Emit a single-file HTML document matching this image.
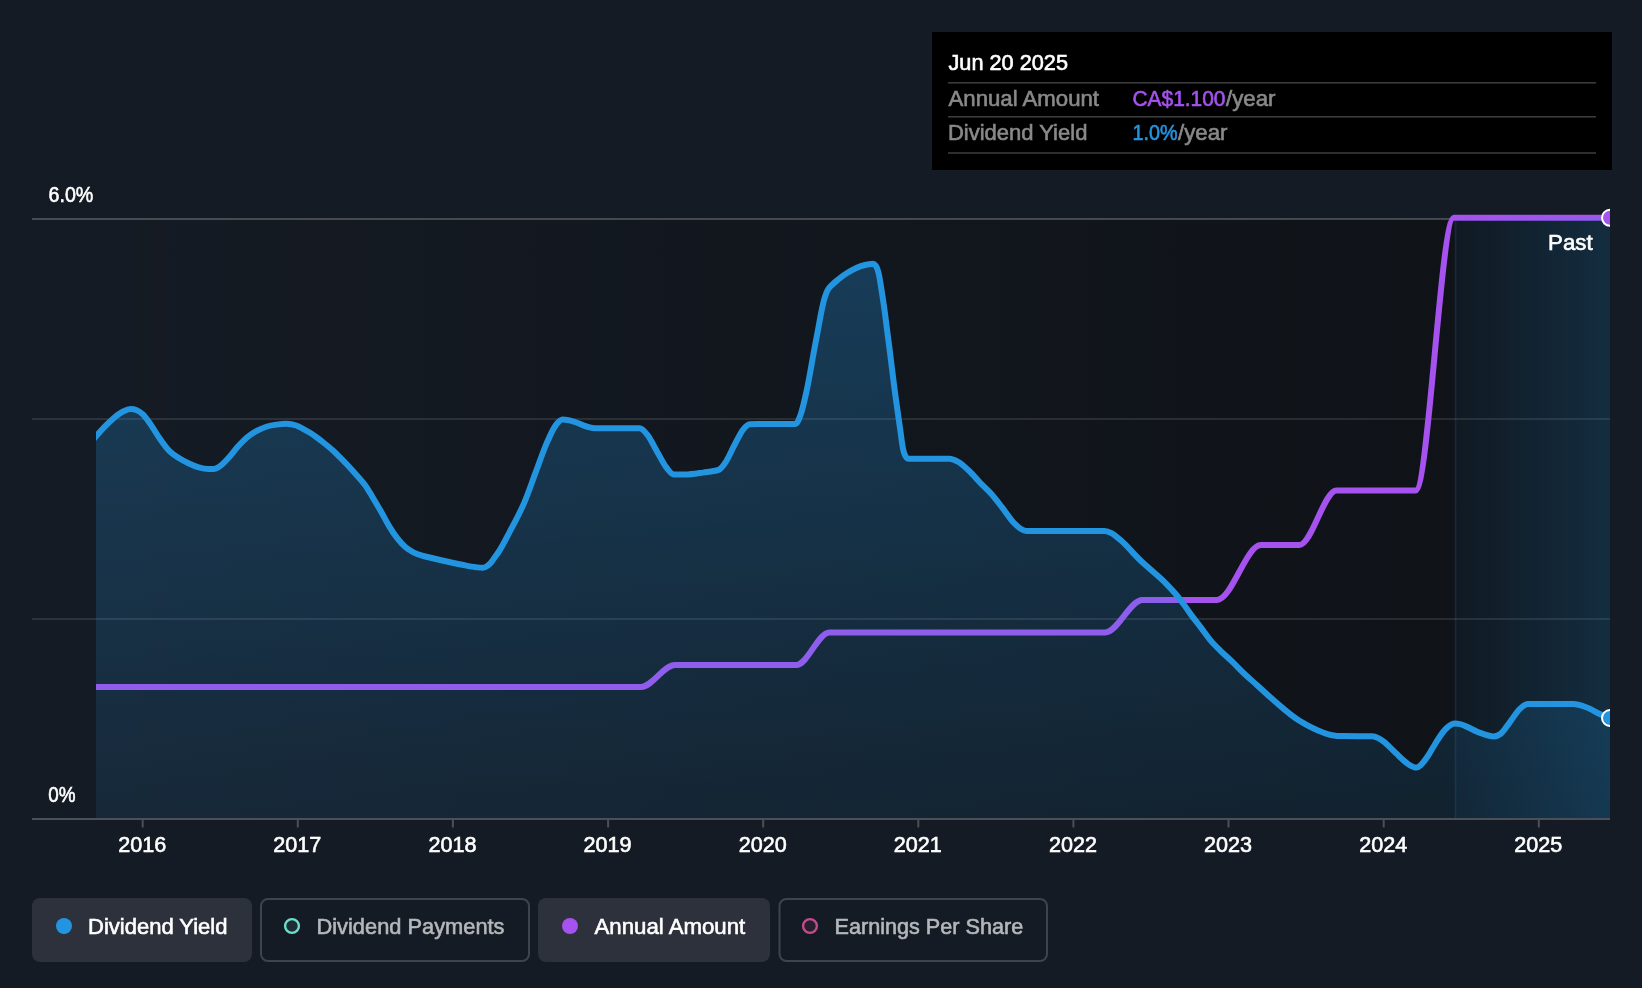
<!DOCTYPE html>
<html><head><meta charset="utf-8"><title>Dividend chart</title>
<style>
html,body{margin:0;padding:0;background:#151b24;}
body{width:1642px;height:988px;overflow:hidden;position:relative;font-family:"Liberation Sans",sans-serif;}
svg{position:absolute;left:0;top:0;display:block;will-change:transform;}
text{font-family:"Liberation Sans",sans-serif;stroke-width:0.6px;}
.ax{font-size:21.6px;fill:#ffffff;stroke:#ffffff;}
.tt{font-size:21.6px;}
.lg{font-size:21.8px;}
</style></head><body>
<svg width="1642" height="988" viewBox="0 0 1642 988">
<defs>
<linearGradient id="dk" x1="96" y1="0" x2="1455" y2="0" gradientUnits="userSpaceOnUse">
<stop offset="0" stop-color="#090a0b" stop-opacity="0"/><stop offset="1" stop-color="#090a0b" stop-opacity="0.47"/></linearGradient>
<linearGradient id="ar" x1="0" y1="263" x2="0" y2="818" gradientUnits="userSpaceOnUse">
<stop offset="0" stop-color="#2394df" stop-opacity="0.30"/><stop offset="1" stop-color="#2394df" stop-opacity="0.11"/></linearGradient>
<linearGradient id="past" x1="1455" y1="0" x2="1610" y2="0" gradientUnits="userSpaceOnUse">
<stop offset="0" stop-color="#2394df" stop-opacity="0.05"/><stop offset="1" stop-color="#2394df" stop-opacity="0.2"/></linearGradient>
<clipPath id="cp"><rect x="96" y="200" width="1514" height="640"/></clipPath>
</defs>
<rect x="0" y="0" width="1642" height="988" fill="#151b24"/>
<rect x="96" y="219" width="1359" height="599" fill="url(#dk)"/>
<rect x="1455" y="219" width="155" height="599" fill="#090a0b" opacity="0.47"/>
<rect x="32" y="418" width="1578" height="2" fill="#fff" fill-opacity="0.105"/>
<rect x="32" y="618" width="1578" height="2" fill="#fff" fill-opacity="0.105"/>
<rect x="32" y="218" width="1578" height="2" fill="#fff" fill-opacity="0.21"/>
<g clip-path="url(#cp)">
<path d="M80.00,686.90C267.03,686.90,454.07,686.90,641.10,686.90C652.37,686.90,663.63,665.00,674.90,665.00C715.40,665.00,755.90,665.00,796.40,665.00C807.37,665.00,818.33,632.40,829.30,632.40C921.27,632.40,1013.23,632.40,1105.20,632.40C1117.63,632.40,1130.07,599.90,1142.50,599.90C1167.33,599.90,1192.17,599.90,1217.00,599.90C1231.63,599.90,1246.27,545.10,1260.90,545.10C1273.70,545.10,1286.50,545.10,1299.30,545.10C1311.70,545.10,1324.10,490.50,1336.50,490.50C1362.87,490.50,1389.23,490.50,1415.60,490.50C1428.33,490.50,1441.07,217.80,1453.80,217.80C1505.87,217.80,1557.93,217.80,1610.00,217.80" fill="none" stroke="#a552ee" stroke-width="6" stroke-linejoin="round"/>
<path d="M84.00,451.00C88.00,446.00,92.00,441.01,96.00,436.40C99.50,432.37,103.00,428.41,106.50,424.90C108.50,422.89,110.50,420.95,112.50,419.20C114.53,417.42,116.57,415.72,118.60,414.30C120.63,412.88,122.67,411.58,124.70,410.70C126.73,409.82,128.77,409.00,130.80,409.00C132.80,409.00,134.80,409.40,136.80,410.20C138.83,411.01,140.87,412.46,142.90,414.40C145.27,416.66,147.63,420.11,150.00,423.40C153.23,427.89,156.47,433.89,159.70,438.50C162.97,443.16,166.23,447.89,169.50,451.20C172.73,454.47,175.97,456.26,179.20,458.30C182.47,460.36,185.73,461.98,189.00,463.50C192.23,465.01,195.47,466.47,198.70,467.40C201.97,468.34,205.23,469.10,208.50,469.10C210.13,469.10,211.77,469.07,213.40,469.00C215.00,468.93,216.60,468.24,218.20,467.40C221.47,465.69,224.73,461.96,228.00,458.50C231.23,455.08,234.47,450.37,237.70,446.80C240.97,443.19,244.23,439.69,247.50,437.00C250.73,434.34,253.97,432.44,257.20,430.70C260.47,428.94,263.73,427.52,267.00,426.50C270.23,425.49,273.47,425.05,276.70,424.60C279.97,424.15,283.23,423.80,286.50,423.80C289.73,423.80,292.97,424.37,296.20,425.50C298.47,426.29,300.73,427.60,303.00,428.80C305.33,430.03,307.67,431.34,310.00,432.80C312.07,434.10,314.13,435.52,316.20,437.00C318.80,438.87,321.40,440.92,324.00,443.00C326.80,445.24,329.60,447.48,332.40,450.00C334.93,452.28,337.47,454.78,340.00,457.30C342.87,460.15,345.73,463.12,348.60,466.20C351.23,469.03,353.87,471.98,356.50,475.00C359.27,478.17,362.03,480.95,364.80,484.80C366.03,486.52,367.27,488.36,368.50,490.30C369.97,492.61,371.43,495.22,372.90,497.70C375.60,502.26,378.30,506.77,381.00,511.50C383.70,516.23,386.40,521.65,389.10,526.10C391.80,530.55,394.50,534.70,397.20,538.20C399.90,541.70,402.60,544.75,405.30,547.10C408.00,549.45,410.70,550.91,413.40,552.30C416.30,553.79,419.20,554.70,422.10,555.60C424.60,556.38,427.10,556.88,429.60,557.50C433.80,558.54,438.00,559.54,442.20,560.50C448.90,562.03,455.60,563.52,462.30,564.80C466.87,565.67,471.43,566.66,476.00,567.20C478.20,567.46,480.40,567.80,482.60,567.80C483.90,567.80,485.20,567.25,486.50,566.50C488.03,565.61,489.57,564.28,491.10,562.50C492.40,560.99,493.70,558.83,495.00,557.00C496.30,555.17,497.60,553.48,498.90,551.50C502.53,545.98,506.17,538.51,509.80,531.60C514.67,522.34,519.53,513.86,524.40,502.30C528.07,493.59,531.73,482.83,535.40,473.10C539.07,463.37,542.73,452.34,546.40,443.90C549.43,436.92,552.47,429.70,555.50,425.60C557.93,422.31,560.37,419.60,562.80,419.60C566.47,419.60,570.13,420.59,573.80,421.60C578.07,422.77,582.33,425.33,586.60,426.50C589.63,427.33,592.67,428.30,595.70,428.30C610.33,428.30,624.97,428.30,639.60,428.30C642.20,428.30,644.80,431.60,647.40,434.80C650.73,438.90,654.07,446.46,657.40,452.20C660.43,457.42,663.47,463.82,666.50,467.70C668.97,470.85,671.43,474.60,673.90,474.60C677.53,474.60,681.17,474.60,684.80,474.60C690.90,474.60,697.00,473.48,703.10,472.60C708.27,471.85,713.43,471.70,718.60,469.90C720.73,469.16,722.87,466.11,725.00,463.10C728.03,458.83,731.07,451.40,734.10,445.80C737.17,440.13,740.23,433.00,743.30,429.30C745.43,426.73,747.57,424.36,749.70,424.20C752.43,424.00,755.17,423.90,757.90,423.90C770.40,423.90,782.90,423.90,795.40,423.90C797.13,423.90,798.87,419.61,800.60,414.80C802.63,409.15,804.67,399.89,806.70,390.50C809.20,378.95,811.70,363.29,814.20,350.00C815.40,343.62,816.60,337.37,817.80,331.00C819.07,324.28,820.33,316.72,821.60,310.70C822.37,307.06,823.13,303.51,823.90,300.60C824.70,297.57,825.50,295.01,826.30,293.00C826.93,291.41,827.57,290.23,828.20,289.20C828.80,288.22,829.40,287.60,830.00,286.90C831.00,285.74,832.00,284.93,833.00,284.00C834.17,282.92,835.33,281.89,836.50,280.90C837.87,279.74,839.23,278.65,840.60,277.60C842.07,276.47,843.53,275.41,845.00,274.40C846.90,273.10,848.80,271.88,850.70,270.80C854.10,268.87,857.50,267.35,860.90,266.20C863.60,265.29,866.30,264.60,869.00,264.20C870.33,264.00,871.67,263.80,873.00,263.80C873.87,263.80,874.73,264.37,875.60,265.50C876.77,267.03,877.93,269.80,879.10,275.30C879.93,279.23,880.77,285.19,881.60,290.50C882.60,296.88,883.60,303.39,884.60,310.70C885.47,317.03,886.33,324.33,887.20,331.00C888.03,337.42,888.87,343.51,889.70,350.00C891.17,361.42,892.63,374.38,894.10,385.70C896.13,401.39,898.17,415.16,900.20,429.40C901.13,435.94,902.07,444.27,903.00,448.80C903.83,452.84,904.67,454.91,905.50,456.30C906.50,457.97,907.50,458.80,908.50,458.80C922.10,458.80,935.70,458.70,949.30,458.70C952.37,458.70,955.43,460.22,958.50,462.00C962.13,464.11,965.77,467.72,969.40,471.20C973.07,474.71,976.73,479.20,980.40,483.00C984.07,486.80,987.73,489.86,991.40,494.00C995.03,498.10,998.67,503.01,1002.30,507.70C1005.97,512.44,1009.63,518.43,1013.30,522.30C1015.73,524.87,1018.17,527.23,1020.60,528.70C1022.43,529.81,1024.27,530.90,1026.10,530.90C1052.27,530.90,1078.43,530.90,1104.60,530.90C1107.03,530.90,1109.47,532.00,1111.90,533.30C1114.97,534.94,1118.03,537.94,1121.10,540.60C1127.57,546.21,1134.03,554.43,1140.50,560.50C1143.20,563.03,1145.90,565.37,1148.60,567.80C1154.00,572.66,1159.40,576.88,1164.80,582.30C1168.57,586.08,1172.33,589.96,1176.10,594.50C1178.80,597.76,1181.50,601.35,1184.20,605.00C1186.90,608.65,1189.60,612.75,1192.30,616.40C1195.00,620.05,1197.70,623.36,1200.40,626.90C1203.63,631.14,1206.87,635.93,1210.10,639.80C1213.40,643.75,1216.70,646.99,1220.00,650.30C1224.07,654.38,1228.13,657.78,1232.20,661.70C1236.23,665.58,1240.27,669.88,1244.30,673.70C1248.37,677.55,1252.43,681.02,1256.50,684.70C1261.00,688.78,1265.50,693.00,1270.00,697.00C1274.07,700.61,1278.13,704.18,1282.20,707.60C1284.13,709.23,1286.07,710.85,1288.00,712.40C1290.10,714.09,1292.20,715.80,1294.30,717.30C1296.33,718.76,1298.37,720.03,1300.40,721.30C1302.43,722.57,1304.47,723.78,1306.50,724.90C1310.53,727.13,1314.57,729.02,1318.60,730.70C1322.67,732.39,1326.73,734.13,1330.80,735.00C1332.87,735.44,1334.93,735.76,1337.00,735.90C1339.00,736.03,1341.00,736.09,1343.00,736.10C1352.73,736.17,1362.47,736.13,1372.20,736.20C1374.23,736.21,1376.27,737.10,1378.30,738.10C1380.33,739.10,1382.37,740.57,1384.40,742.20C1386.43,743.83,1388.47,745.97,1390.50,747.90C1392.50,749.80,1394.50,751.77,1396.50,753.70C1398.53,755.67,1400.57,757.80,1402.60,759.60C1404.63,761.40,1406.67,763.20,1408.70,764.50C1410.73,765.80,1412.77,767.17,1414.80,767.40C1415.40,767.47,1416.00,767.50,1416.60,767.50C1418.03,767.50,1419.47,766.15,1420.90,764.90C1422.93,763.13,1424.97,760.23,1427.00,757.30C1429.03,754.37,1431.07,750.60,1433.10,747.30C1435.13,744.00,1437.17,740.48,1439.20,737.50C1441.23,734.52,1443.27,731.58,1445.30,729.40C1447.33,727.22,1449.37,725.30,1451.40,724.40C1452.60,723.87,1453.80,723.60,1455.00,723.60C1456.67,723.60,1458.33,723.77,1460.00,724.10C1461.60,724.42,1463.20,725.27,1464.80,725.90C1470.20,728.02,1475.60,731.38,1481.00,733.20C1485.30,734.65,1489.60,736.40,1493.90,736.40C1496.07,736.40,1498.23,735.57,1500.40,734.00C1503.63,731.65,1506.87,725.96,1510.10,721.80C1513.37,717.60,1516.63,711.93,1519.90,708.90C1522.60,706.40,1525.30,704.00,1528.00,704.00C1543.10,704.00,1558.20,704.00,1573.30,704.00C1577.63,704.00,1581.97,705.70,1586.30,707.30C1591.13,709.08,1595.97,712.35,1600.80,714.50C1603.87,715.87,1606.93,717.10,1610.00,718.30C1613.33,719.61,1616.67,720.80,1620.00,722.00L1620,818L84,818Z" fill="url(#ar)"/>
<rect x="1455" y="218" width="155" height="600" fill="url(#past)"/>
<rect x="1454.6" y="218" width="1.8" height="600" fill="#2394df" fill-opacity="0.14"/>
<path d="M84.00,451.00C88.00,446.00,92.00,441.01,96.00,436.40C99.50,432.37,103.00,428.41,106.50,424.90C108.50,422.89,110.50,420.95,112.50,419.20C114.53,417.42,116.57,415.72,118.60,414.30C120.63,412.88,122.67,411.58,124.70,410.70C126.73,409.82,128.77,409.00,130.80,409.00C132.80,409.00,134.80,409.40,136.80,410.20C138.83,411.01,140.87,412.46,142.90,414.40C145.27,416.66,147.63,420.11,150.00,423.40C153.23,427.89,156.47,433.89,159.70,438.50C162.97,443.16,166.23,447.89,169.50,451.20C172.73,454.47,175.97,456.26,179.20,458.30C182.47,460.36,185.73,461.98,189.00,463.50C192.23,465.01,195.47,466.47,198.70,467.40C201.97,468.34,205.23,469.10,208.50,469.10C210.13,469.10,211.77,469.07,213.40,469.00C215.00,468.93,216.60,468.24,218.20,467.40C221.47,465.69,224.73,461.96,228.00,458.50C231.23,455.08,234.47,450.37,237.70,446.80C240.97,443.19,244.23,439.69,247.50,437.00C250.73,434.34,253.97,432.44,257.20,430.70C260.47,428.94,263.73,427.52,267.00,426.50C270.23,425.49,273.47,425.05,276.70,424.60C279.97,424.15,283.23,423.80,286.50,423.80C289.73,423.80,292.97,424.37,296.20,425.50C298.47,426.29,300.73,427.60,303.00,428.80C305.33,430.03,307.67,431.34,310.00,432.80C312.07,434.10,314.13,435.52,316.20,437.00C318.80,438.87,321.40,440.92,324.00,443.00C326.80,445.24,329.60,447.48,332.40,450.00C334.93,452.28,337.47,454.78,340.00,457.30C342.87,460.15,345.73,463.12,348.60,466.20C351.23,469.03,353.87,471.98,356.50,475.00C359.27,478.17,362.03,480.95,364.80,484.80C366.03,486.52,367.27,488.36,368.50,490.30C369.97,492.61,371.43,495.22,372.90,497.70C375.60,502.26,378.30,506.77,381.00,511.50C383.70,516.23,386.40,521.65,389.10,526.10C391.80,530.55,394.50,534.70,397.20,538.20C399.90,541.70,402.60,544.75,405.30,547.10C408.00,549.45,410.70,550.91,413.40,552.30C416.30,553.79,419.20,554.70,422.10,555.60C424.60,556.38,427.10,556.88,429.60,557.50C433.80,558.54,438.00,559.54,442.20,560.50C448.90,562.03,455.60,563.52,462.30,564.80C466.87,565.67,471.43,566.66,476.00,567.20C478.20,567.46,480.40,567.80,482.60,567.80C483.90,567.80,485.20,567.25,486.50,566.50C488.03,565.61,489.57,564.28,491.10,562.50C492.40,560.99,493.70,558.83,495.00,557.00C496.30,555.17,497.60,553.48,498.90,551.50C502.53,545.98,506.17,538.51,509.80,531.60C514.67,522.34,519.53,513.86,524.40,502.30C528.07,493.59,531.73,482.83,535.40,473.10C539.07,463.37,542.73,452.34,546.40,443.90C549.43,436.92,552.47,429.70,555.50,425.60C557.93,422.31,560.37,419.60,562.80,419.60C566.47,419.60,570.13,420.59,573.80,421.60C578.07,422.77,582.33,425.33,586.60,426.50C589.63,427.33,592.67,428.30,595.70,428.30C610.33,428.30,624.97,428.30,639.60,428.30C642.20,428.30,644.80,431.60,647.40,434.80C650.73,438.90,654.07,446.46,657.40,452.20C660.43,457.42,663.47,463.82,666.50,467.70C668.97,470.85,671.43,474.60,673.90,474.60C677.53,474.60,681.17,474.60,684.80,474.60C690.90,474.60,697.00,473.48,703.10,472.60C708.27,471.85,713.43,471.70,718.60,469.90C720.73,469.16,722.87,466.11,725.00,463.10C728.03,458.83,731.07,451.40,734.10,445.80C737.17,440.13,740.23,433.00,743.30,429.30C745.43,426.73,747.57,424.36,749.70,424.20C752.43,424.00,755.17,423.90,757.90,423.90C770.40,423.90,782.90,423.90,795.40,423.90C797.13,423.90,798.87,419.61,800.60,414.80C802.63,409.15,804.67,399.89,806.70,390.50C809.20,378.95,811.70,363.29,814.20,350.00C815.40,343.62,816.60,337.37,817.80,331.00C819.07,324.28,820.33,316.72,821.60,310.70C822.37,307.06,823.13,303.51,823.90,300.60C824.70,297.57,825.50,295.01,826.30,293.00C826.93,291.41,827.57,290.23,828.20,289.20C828.80,288.22,829.40,287.60,830.00,286.90C831.00,285.74,832.00,284.93,833.00,284.00C834.17,282.92,835.33,281.89,836.50,280.90C837.87,279.74,839.23,278.65,840.60,277.60C842.07,276.47,843.53,275.41,845.00,274.40C846.90,273.10,848.80,271.88,850.70,270.80C854.10,268.87,857.50,267.35,860.90,266.20C863.60,265.29,866.30,264.60,869.00,264.20C870.33,264.00,871.67,263.80,873.00,263.80C873.87,263.80,874.73,264.37,875.60,265.50C876.77,267.03,877.93,269.80,879.10,275.30C879.93,279.23,880.77,285.19,881.60,290.50C882.60,296.88,883.60,303.39,884.60,310.70C885.47,317.03,886.33,324.33,887.20,331.00C888.03,337.42,888.87,343.51,889.70,350.00C891.17,361.42,892.63,374.38,894.10,385.70C896.13,401.39,898.17,415.16,900.20,429.40C901.13,435.94,902.07,444.27,903.00,448.80C903.83,452.84,904.67,454.91,905.50,456.30C906.50,457.97,907.50,458.80,908.50,458.80C922.10,458.80,935.70,458.70,949.30,458.70C952.37,458.70,955.43,460.22,958.50,462.00C962.13,464.11,965.77,467.72,969.40,471.20C973.07,474.71,976.73,479.20,980.40,483.00C984.07,486.80,987.73,489.86,991.40,494.00C995.03,498.10,998.67,503.01,1002.30,507.70C1005.97,512.44,1009.63,518.43,1013.30,522.30C1015.73,524.87,1018.17,527.23,1020.60,528.70C1022.43,529.81,1024.27,530.90,1026.10,530.90C1052.27,530.90,1078.43,530.90,1104.60,530.90C1107.03,530.90,1109.47,532.00,1111.90,533.30C1114.97,534.94,1118.03,537.94,1121.10,540.60C1127.57,546.21,1134.03,554.43,1140.50,560.50C1143.20,563.03,1145.90,565.37,1148.60,567.80C1154.00,572.66,1159.40,576.88,1164.80,582.30C1168.57,586.08,1172.33,589.96,1176.10,594.50C1178.80,597.76,1181.50,601.35,1184.20,605.00C1186.90,608.65,1189.60,612.75,1192.30,616.40C1195.00,620.05,1197.70,623.36,1200.40,626.90C1203.63,631.14,1206.87,635.93,1210.10,639.80C1213.40,643.75,1216.70,646.99,1220.00,650.30C1224.07,654.38,1228.13,657.78,1232.20,661.70C1236.23,665.58,1240.27,669.88,1244.30,673.70C1248.37,677.55,1252.43,681.02,1256.50,684.70C1261.00,688.78,1265.50,693.00,1270.00,697.00C1274.07,700.61,1278.13,704.18,1282.20,707.60C1284.13,709.23,1286.07,710.85,1288.00,712.40C1290.10,714.09,1292.20,715.80,1294.30,717.30C1296.33,718.76,1298.37,720.03,1300.40,721.30C1302.43,722.57,1304.47,723.78,1306.50,724.90C1310.53,727.13,1314.57,729.02,1318.60,730.70C1322.67,732.39,1326.73,734.13,1330.80,735.00C1332.87,735.44,1334.93,735.76,1337.00,735.90C1339.00,736.03,1341.00,736.09,1343.00,736.10C1352.73,736.17,1362.47,736.13,1372.20,736.20C1374.23,736.21,1376.27,737.10,1378.30,738.10C1380.33,739.10,1382.37,740.57,1384.40,742.20C1386.43,743.83,1388.47,745.97,1390.50,747.90C1392.50,749.80,1394.50,751.77,1396.50,753.70C1398.53,755.67,1400.57,757.80,1402.60,759.60C1404.63,761.40,1406.67,763.20,1408.70,764.50C1410.73,765.80,1412.77,767.17,1414.80,767.40C1415.40,767.47,1416.00,767.50,1416.60,767.50C1418.03,767.50,1419.47,766.15,1420.90,764.90C1422.93,763.13,1424.97,760.23,1427.00,757.30C1429.03,754.37,1431.07,750.60,1433.10,747.30C1435.13,744.00,1437.17,740.48,1439.20,737.50C1441.23,734.52,1443.27,731.58,1445.30,729.40C1447.33,727.22,1449.37,725.30,1451.40,724.40C1452.60,723.87,1453.80,723.60,1455.00,723.60C1456.67,723.60,1458.33,723.77,1460.00,724.10C1461.60,724.42,1463.20,725.27,1464.80,725.90C1470.20,728.02,1475.60,731.38,1481.00,733.20C1485.30,734.65,1489.60,736.40,1493.90,736.40C1496.07,736.40,1498.23,735.57,1500.40,734.00C1503.63,731.65,1506.87,725.96,1510.10,721.80C1513.37,717.60,1516.63,711.93,1519.90,708.90C1522.60,706.40,1525.30,704.00,1528.00,704.00C1543.10,704.00,1558.20,704.00,1573.30,704.00C1577.63,704.00,1581.97,705.70,1586.30,707.30C1591.13,709.08,1595.97,712.35,1600.80,714.50C1603.87,715.87,1606.93,717.10,1610.00,718.30C1613.33,719.61,1616.67,720.80,1620.00,722.00" fill="none" stroke="#2394df" stroke-width="6" stroke-linejoin="round"/>
<circle cx="1610" cy="217.8" r="8" fill="#a552ee" stroke="#fff" stroke-width="2"/>
<circle cx="1610" cy="718" r="8" fill="#2394df" stroke="#fff" stroke-width="2"/>
</g>
<rect x="32" y="818" width="1578" height="2" fill="#4b4f57"/>
<rect x="141.7" y="819" width="2" height="8.5" fill="#4b4f57"/><rect x="296.8" y="819" width="2" height="8.5" fill="#4b4f57"/><rect x="451.9" y="819" width="2" height="8.5" fill="#4b4f57"/><rect x="607.1" y="819" width="2" height="8.5" fill="#4b4f57"/><rect x="762.2" y="819" width="2" height="8.5" fill="#4b4f57"/><rect x="917.3" y="819" width="2" height="8.5" fill="#4b4f57"/><rect x="1072.4" y="819" width="2" height="8.5" fill="#4b4f57"/><rect x="1227.5" y="819" width="2" height="8.5" fill="#4b4f57"/><rect x="1382.7" y="819" width="2" height="8.5" fill="#4b4f57"/><rect x="1537.8" y="819" width="2" height="8.5" fill="#4b4f57"/>
<text x="142.2" y="852" text-anchor="middle" class="ax">2016</text><text x="297.3" y="852" text-anchor="middle" class="ax">2017</text><text x="452.4" y="852" text-anchor="middle" class="ax">2018</text><text x="607.6" y="852" text-anchor="middle" class="ax">2019</text><text x="762.7" y="852" text-anchor="middle" class="ax">2020</text><text x="917.8" y="852" text-anchor="middle" class="ax">2021</text><text x="1072.9" y="852" text-anchor="middle" class="ax">2022</text><text x="1228.0" y="852" text-anchor="middle" class="ax">2023</text><text x="1383.2" y="852" text-anchor="middle" class="ax">2024</text><text x="1538.3" y="852" text-anchor="middle" class="ax">2025</text>
<text x="48.5" y="201.8" class="ax" textLength="44.8" lengthAdjust="spacingAndGlyphs">6.0%</text>
<text x="48.3" y="801.7" class="ax" textLength="27.3" lengthAdjust="spacingAndGlyphs">0%</text>
<text x="1548.1" y="249.8" class="ax" textLength="44.6" lengthAdjust="spacingAndGlyphs">Past</text>

<!-- tooltip -->
<rect x="932" y="32" width="680" height="138" fill="#000"/>
<text x="948.5" y="70" class="tt" fill="#fff" stroke="#fff" textLength="119.5" lengthAdjust="spacingAndGlyphs">Jun 20 2025</text>
<rect x="948" y="82" width="648" height="1.6" fill="#3a3a3a"/>
<rect x="948" y="116" width="648" height="1.6" fill="#3a3a3a"/>
<rect x="948" y="152.2" width="648" height="1.6" fill="#3a3a3a"/>
<text x="948.5" y="105.8" class="tt" fill="#898989" stroke="#898989" textLength="150.5" lengthAdjust="spacingAndGlyphs">Annual Amount</text>
<text x="1132.5" y="105.8" class="tt" fill="#a552ee" stroke="#a552ee" textLength="93" lengthAdjust="spacingAndGlyphs">CA$1.100</text>
<text x="1226" y="105.8" class="tt" fill="#898989" stroke="#898989" textLength="49.5" lengthAdjust="spacingAndGlyphs">/year</text>
<text x="947.9" y="139.9" class="tt" fill="#898989" stroke="#898989" textLength="139.5" lengthAdjust="spacingAndGlyphs">Dividend Yield</text>
<text x="1132.5" y="139.9" class="tt" fill="#2394df" stroke="#2394df" textLength="45" lengthAdjust="spacingAndGlyphs">1.0%</text>
<text x="1178" y="139.9" class="tt" fill="#898989" stroke="#898989" textLength="49.5" lengthAdjust="spacingAndGlyphs">/year</text>

<!-- legend -->
<rect x="32" y="898" width="220" height="64" rx="8" fill="#2c313b"/>
<circle cx="64" cy="926" r="8" fill="#2394df"/>
<text x="88" y="933.8" class="lg" fill="#fff" stroke="#fff" textLength="139.5" lengthAdjust="spacingAndGlyphs">Dividend Yield</text>
<rect x="261" y="899" width="268" height="62" rx="7" fill="none" stroke="#3e434d" stroke-width="2"/>
<circle cx="292" cy="926" r="6.9" fill="#6ddccb" fill-opacity="0.1" stroke="#6ddccb" stroke-width="2.4"/>
<text x="316.5" y="933.8" class="lg" fill="#b4b7bb" stroke="#b4b7bb" textLength="188" lengthAdjust="spacingAndGlyphs">Dividend Payments</text>
<rect x="538" y="898" width="232" height="64" rx="8" fill="#2c313b"/>
<circle cx="570" cy="926" r="8" fill="#a552ee"/>
<text x="594.5" y="933.8" class="lg" fill="#fff" stroke="#fff" textLength="150.7" lengthAdjust="spacingAndGlyphs">Annual Amount</text>
<rect x="779.5" y="899" width="267.5" height="62" rx="7" fill="none" stroke="#3e434d" stroke-width="2"/>
<circle cx="810" cy="926" r="6.9" fill="#c24a8d" fill-opacity="0.1" stroke="#c24a8d" stroke-width="2.4"/>
<text x="834.5" y="933.8" class="lg" fill="#b4b7bb" stroke="#b4b7bb" textLength="188.7" lengthAdjust="spacingAndGlyphs">Earnings Per Share</text>
</svg>
</body></html>
